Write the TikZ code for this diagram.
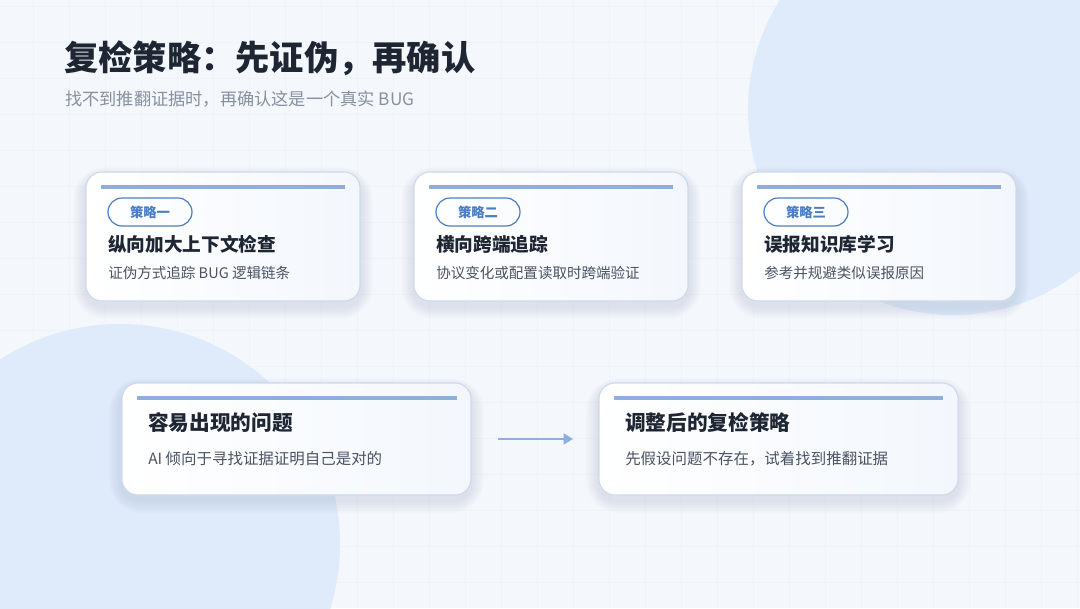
\documentclass[tikz,border=0pt]{standalone}
\usepackage{fontspec}
\setmainfont{Noto Sans CJK SC}
\usetikzlibrary{arrows.meta}
\definecolor{bgc}{HTML}{F4F7FB}
\definecolor{gridc}{HTML}{EFF3F8}
\definecolor{blobc}{HTML}{DFEAFA}
\definecolor{cardborder}{HTML}{CDD9EA}
\definecolor{accent}{HTML}{8EAFDD}
\definecolor{pillc}{HTML}{4B7DC2}
\definecolor{titlec}{HTML}{1F2633}
\definecolor{subc}{HTML}{8790A0}
\definecolor{bodyc}{HTML}{4A5262}
\definecolor{shadc}{HTML}{6A7FA8}
\definecolor{cardend}{HTML}{F3F7FD}
\tikzset{
  card/.style={draw=cardborder, line width=0.8pt, left color=white, right color=cardend, rounded corners=12pt},
  topline/.style={draw=accent, line width=2.4pt},
  pill/.style={draw=pillc, line width=0.9pt, rounded corners=10.5pt, minimum width=63pt, minimum height=21pt,
    font=\bfseries\fontsize{10}{12}\selectfont, text=pillc, inner sep=0pt},
  ctitle/.style={anchor=west, font=\bfseries\fontsize{14}{16}\selectfont, text=titlec, inner sep=0pt},
  cbody/.style={anchor=west, font=\fontsize{10.9}{13}\selectfont, text=bodyc, inner sep=0pt},
  btitle/.style={anchor=west, font=\bfseries\fontsize{15.5}{18}\selectfont, text=titlec, inner sep=0pt},
  bbody/.style={anchor=west, font=\fontsize{11.6}{14}\selectfont, text=bodyc, inner sep=0pt},
  conn/.style={draw=accent, line width=1.6pt, -{Triangle[length=7pt,width=8pt]}}
}
\newcommand{\softshadow}[4]{%
  \foreach \k in {1,...,8}{
    \fill[shadc, opacity=0.018, rounded corners=12pt+\k*1.5pt]
      (#1-\k*1.6,#2-\k*1.2+5) rectangle (#3+\k*1.6,#4+\k*1.6+5);
  }%
}
\begin{document}
\begin{tikzpicture}[x=0.75pt,y=-0.75pt]
\useasboundingbox (0,0) rectangle (1080,608);
\fill[bgc] (0,0) rectangle (1080,608);
\begin{scope}
\clip (0,0) rectangle (1080,608);
\foreach \i in {0,...,30} \draw[gridc, line width=0.5pt] (\i*36-3,0) -- (\i*36-3,608);
\foreach \j in {0,...,17} \draw[gridc, line width=0.5pt] (0,\j*36+6) -- (1080,\j*36+6);
\fill[blobc] (953,110) circle (205);
\fill[blobc] (120,544) circle (220);
\end{scope}

\node[anchor=west, inner sep=0pt, font=\bfseries\fontsize{25.7}{30}\selectfont, text=titlec] (title) at (64,58) {复检策略：先证伪，再确认};
\node[anchor=west, inner sep=0pt, font=\fontsize{12.9}{15}\selectfont, text=subc] (subtitle) at (65,99) {找不到推翻证据时，再确认这是一个真实 BUG};

% strategy cards
\foreach \n/\x/\p/\t/\b in {s1/86/策略一/纵向加大上下文检查/证伪方式追踪 BUG 逻辑链条,
                             s2/414/策略二/横向跨端追踪/协议变化或配置读取时跨端验证,
                             s3/742/策略三/误报知识库学习/参考并规避类似误报原因}{
  \softshadow{\x}{172}{\x+274}{301}
  \path[card] (\x,172) rectangle (\x+274,301);
  \draw[topline] (\x+15,187) -- (\x+259,187);
  \node[pill] (\n pill) at (\x+64,212) {\p};
  \node[ctitle] (\n title) at (\x+22,244) {\t};
  \node[cbody] (\n body) at (\x+22,273) {\b};
}

% bottom cards
\softshadow{122}{383}{471}{495}
\path[card] (122,383) rectangle (471,495);
\draw[topline] (137,398) -- (457,398);
\node[btitle] (probtitle) at (148,423) {容易出现的问题};
\node[bbody] (probbody) at (148,459) {AI 倾向于寻找证据证明自己是对的};

\softshadow{599}{383}{958}{495}
\path[card] (599,383) rectangle (958,495);
\draw[topline] (614,398) -- (943,398);
\node[btitle] (adjtitle) at (625,423) {调整后的复检策略};
\node[bbody] (adjbody) at (625,459) {先假设问题不存在，试着找到推翻证据};

\coordinate (a1) at (498,439);
\coordinate (a2) at (573,439);
\draw[conn] (a1) -- (a2);
\end{tikzpicture}
\end{document}
